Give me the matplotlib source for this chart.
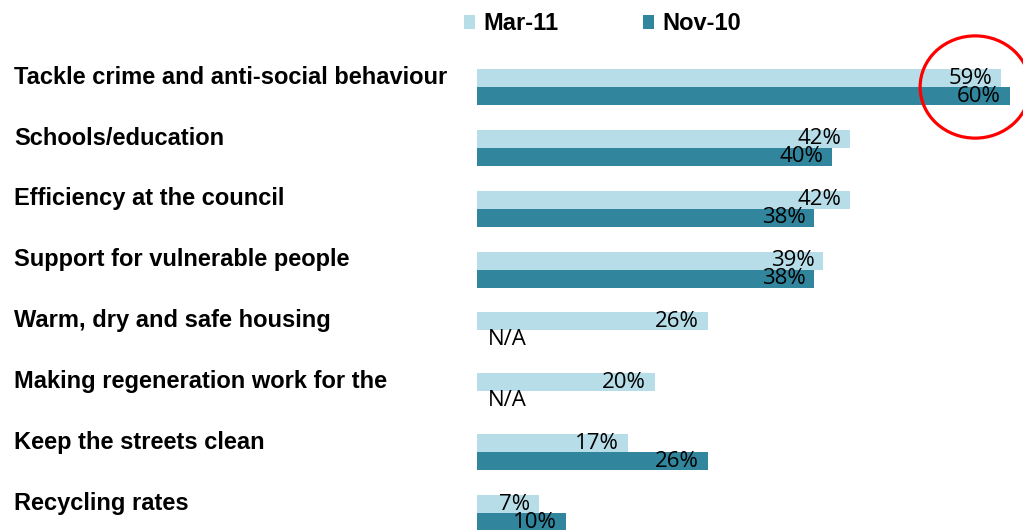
import matplotlib
matplotlib.use("Agg")
import matplotlib.pyplot as plt
from matplotlib.patches import Patch, Ellipse
from matplotlib.transforms import blended_transform_factory

# survey priorities, % of respondents
categories = [
    "Tackle crime and anti-social behaviour",
    "Schools/education",
    "Efficiency at the council",
    "Support for vulnerable people",
    "Warm, dry and safe housing",
    "Making regeneration work for the",
    "Keep the streets clean",
    "Recycling rates",
]
mar11 = [59, 42, 42, 39, 26, 20, 17, 7]
nov10 = [60, 40, 38, 38, None, None, 26, 10]
series_names = ["Mar-11", "Nov-10"]

light = "#b7dde8"
dark = "#31859c"

W, H = 1023, 530
fig = plt.figure(figsize=(W / 100, H / 100), dpi=100)

# axes spans from the bar origin to the right edge, full height
x0 = 477
px_per_pct = 8.88
ax = fig.add_axes([x0 / W, 0, 1 - x0 / W, 1])
ax.set_xlim(0, (W - x0) / px_per_pct)
row_px = 60.86
top_px = 87
ax.set_ylim((H - top_px) / row_px, -top_px / row_px)
ax.axis("off")

bh = 18 / row_px
ys = list(range(len(categories)))

ax.barh([y - bh / 2 for y in ys], mar11, height=bh, color=light)
for y, v in zip(ys, nov10):
    if v is not None:
        ax.barh(y + bh / 2, v, height=bh, color=dark)

lab_font = dict(family=["Open Sans", "DejaVu Sans"], fontsize=16, color="black")
for y, v in zip(ys, mar11):
    ax.annotate(f"{v}%", (v, y - bh / 2), xytext=(-9, 0), textcoords="offset pixels",
                ha="right", va="center", **lab_font)
for y, v in zip(ys, nov10):
    if v is None:
        ax.annotate("N/A", (0, y + bh / 2), xytext=(11, 0), textcoords="offset pixels",
                    ha="left", va="center", **lab_font)
    else:
        ax.annotate(f"{v}%", (v, y + bh / 2), xytext=(-9, 0), textcoords="offset pixels",
                    ha="right", va="center", **lab_font)

# category names on the left
trans = blended_transform_factory(fig.transFigure, ax.transData)
for y, name in zip(ys, categories):
    ax.text(14 / W, y - 0.16, name, transform=trans, ha="left", va="center",
            family="Liberation Sans", fontweight="bold", fontsize=17, color="black")

# highlight around the top item
ax.add_patch(Ellipse((56.1, 0), 12.4, 1.68, fill=False, edgecolor="#ff0000",
                     lw=2.3, clip_on=False))

handles = [Patch(facecolor=light, edgecolor="none"), Patch(facecolor=dark, edgecolor="none")]
fig.legend(handles, series_names, loc="center left", bbox_to_anchor=(464 / W, 1 - 24 / H),
           ncol=2, frameon=False, borderpad=0, borderaxespad=0,
           handlelength=0.47, handleheight=0.55, handletextpad=0.34, columnspacing=3.6,
           prop=dict(family="Liberation Sans", weight="bold", size=17))

fig.savefig("out.png", dpi=100)
